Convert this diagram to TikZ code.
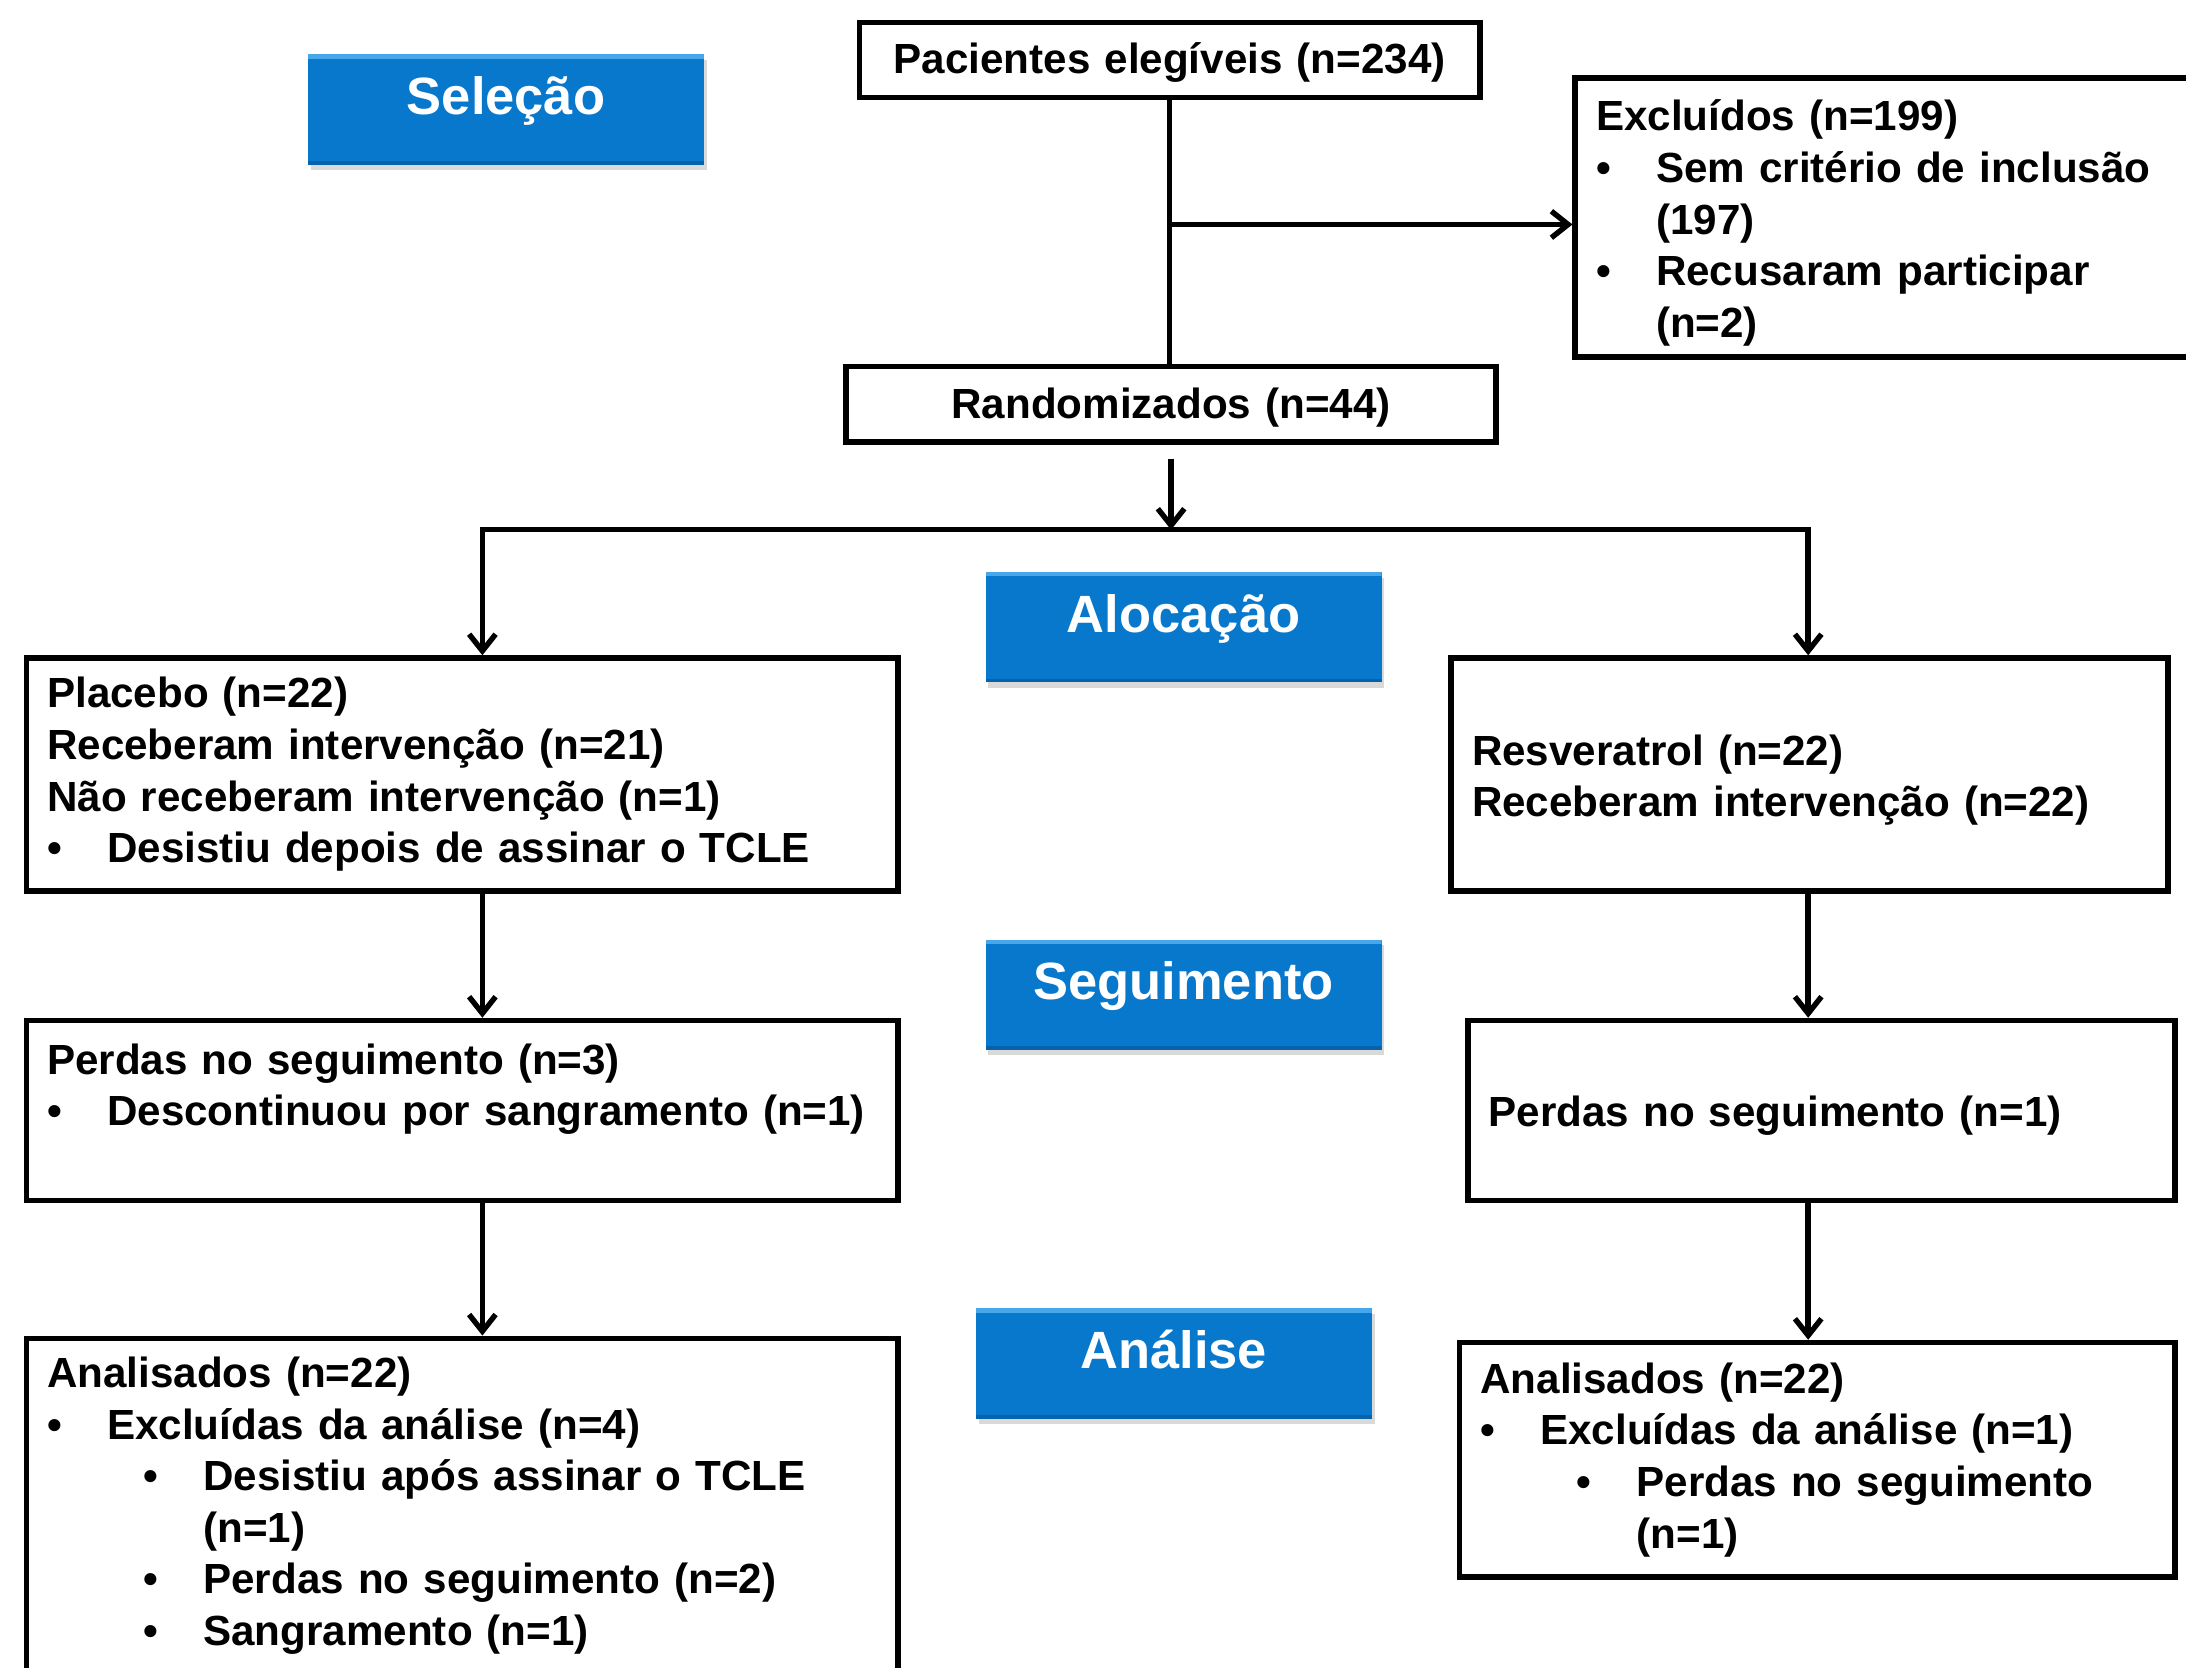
\documentclass[tikz,border=0pt]{standalone}
\usepackage{fontspec}
\setmainfont{Liberation Sans}
\usepackage{xcolor}
\usepackage{tikz}
\usetikzlibrary{arrows.meta,shadows,calc}
\definecolor{myblue}{RGB}{8,120,204}
\definecolor{mybluelight}{RGB}{70,168,234}
\definecolor{mybluedark}{RGB}{6,98,170}
\pgfkeys{tikz/myflowenv/.style={x=0.01cm,y=-0.01cm,line width=1.1pt,font=\fontsize{8.6pt}{10.53pt}\selectfont\bfseries}}
\pgfkeys{tikz/mybox/.style={draw,inner xsep=0.15cm,inner ysep=0pt,align=left}}
\pgfkeys{tikz/mystrut/.style={execute at begin node={\rule{0pt}{#1}}}}
\pgfkeys{tikz/mytitle/.style={fill=myblue,text=white,minimum width=2.84cm,minimum height=0.79cm,inner sep=0pt,
    text height=0.31cm,text depth=0.24cm,font=\fontsize{10.7pt}{12pt}\selectfont\bfseries,
    drop shadow={shadow xshift=0.02cm,shadow yshift=-0.04cm,opacity=0.3},
    path picture={
        \fill[mybluelight] (path picture bounding box.north west) rectangle ([yshift=-0.03cm]path picture bounding box.north east);
        \fill[mybluedark] (path picture bounding box.south west) rectangle ([yshift=0.025cm]path picture bounding box.south east);
    }}}
\pgfkeys{tikz/myarrow/.style={-{Straight Barb[length=0.12cm,width=0.19cm]}}}
\pgfkeys{tikz/mybiarrow/.style={{Straight Barb[length=0.12cm,width=0.19cm]}-{Straight Barb[length=0.12cm,width=0.19cm]}}}
\newcommand\mybulleta{\makebox[0.43cm][l]{\textbullet}}
\newcommand\mybulletb{\hspace*{0.69cm}\makebox[0.43cm][l]{\textbullet}}
\newcommand\mycontA{\hspace*{0.43cm}}
\newcommand\mycontB{\hspace*{1.12cm}}

\begin{document}
\begin{tikzpicture}[myflowenv]
    \useasboundingbox (0,0) rectangle (1568,1196);
    \node[mytitle] (sel) at (363,78.5) {Seleção};
    \node[mytitle] (alo) at (849,450) {Alocação};
    \node[mytitle] (seg) at (849,713.5) {Seguimento};
    \node[mytitle] (anl) at (842,978) {Análise};

    \node[mybox,mystrut=0.26cm,text width=4.15cm,minimum height=0.54cm,align=center] (pac) at (839,43) {Pacientes elegíveis (n=234)};
    \node[mybox,mystrut=0.30cm,text width=4.12cm,minimum height=2cm] (exc) at (1351,156) {Excluídos (n=199)\\
        \mybulleta Sem critério de inclusão\\ \mycontA(197)\\
        \mybulleta Recusaram participar\\ \mycontA(n=2)};
    \node[mybox,mystrut=0.26cm,text width=4.36cm,minimum height=0.54cm,align=center] (rand) at (840,290) {Randomizados (n=44)};

    \node[mybox,text width=5.95cm,minimum height=1.67cm] (pla) at (331.5,555.5) {Placebo (n=22)\\
        Receberam intervenção (n=21)\\ Não receberam intervenção (n=1)\\
        \mybulleta Desistiu depois de assinar o TCLE};
    \node[mybox,mystrut=0.30cm,text width=4.84cm,minimum height=1.67cm] (res) at (1298,555.5) {Resveratrol (n=22)\\
        Receberam intervenção (n=22)};

    \node[mybox,text width=5.95cm,minimum height=1.29cm] (per1) at (331.5,796.5) {Perdas no seguimento (n=3)\\
        \mybulleta Descontinuou por sangramento (n=1)\\ \mbox{}};
    \node[mybox,mystrut=0.30cm,text width=4.77cm,minimum height=1.29cm] (per2) at (1306.5,796.5) {Perdas no seguimento (n=1)};

    \node[mybox,text width=5.95cm,minimum height=2.4cm] (ana1) at (331.5,1080) {Analisados (n=22)\\
        \mybulleta Excluídas da análise (n=4)\\
        \mybulletb Desistiu após assinar o TCLE\\ \mycontB(n=1)\\
        \mybulletb Perdas no seguimento (n=2)\\
        \mybulletb Sangramento (n=1)};
    \node[mybox,text width=4.83cm,minimum height=1.68cm] (ana2) at (1303.5,1047) {Analisados (n=22)\\
        \mybulleta Excluídas da análise (n=1)\\
        \mybulletb Perdas no seguimento\\ \mycontB(n=1)};

    \coordinate (ramo) at (839,161);
    \coordinate (divE) at (346,380);
    \coordinate (divD) at (1297,380);
    \coordinate (divC) at (rand.south |- divE);

    \draw (pac.south) -- (pac.south |- rand.north);
    \draw[myarrow] (ramo) -- (exc.west |- ramo);
    \draw[myarrow] ([yshift=-0.1cm]rand.south) -- (divC);
    \draw[mybiarrow] (divE |- pla.north) -- (divE) -- (divD) -- (divD |- res.north);
    \draw[myarrow] (divE |- pla.south) -- (divE |- per1.north);
    \draw[myarrow] (divD |- res.south) -- (divD |- per2.north);
    \draw[myarrow] (divE |- per1.south) -- (divE |- ana1.north);
    \draw[myarrow] (divD |- per2.south) -- (divD |- ana2.north);
\end{tikzpicture}
\end{document}
